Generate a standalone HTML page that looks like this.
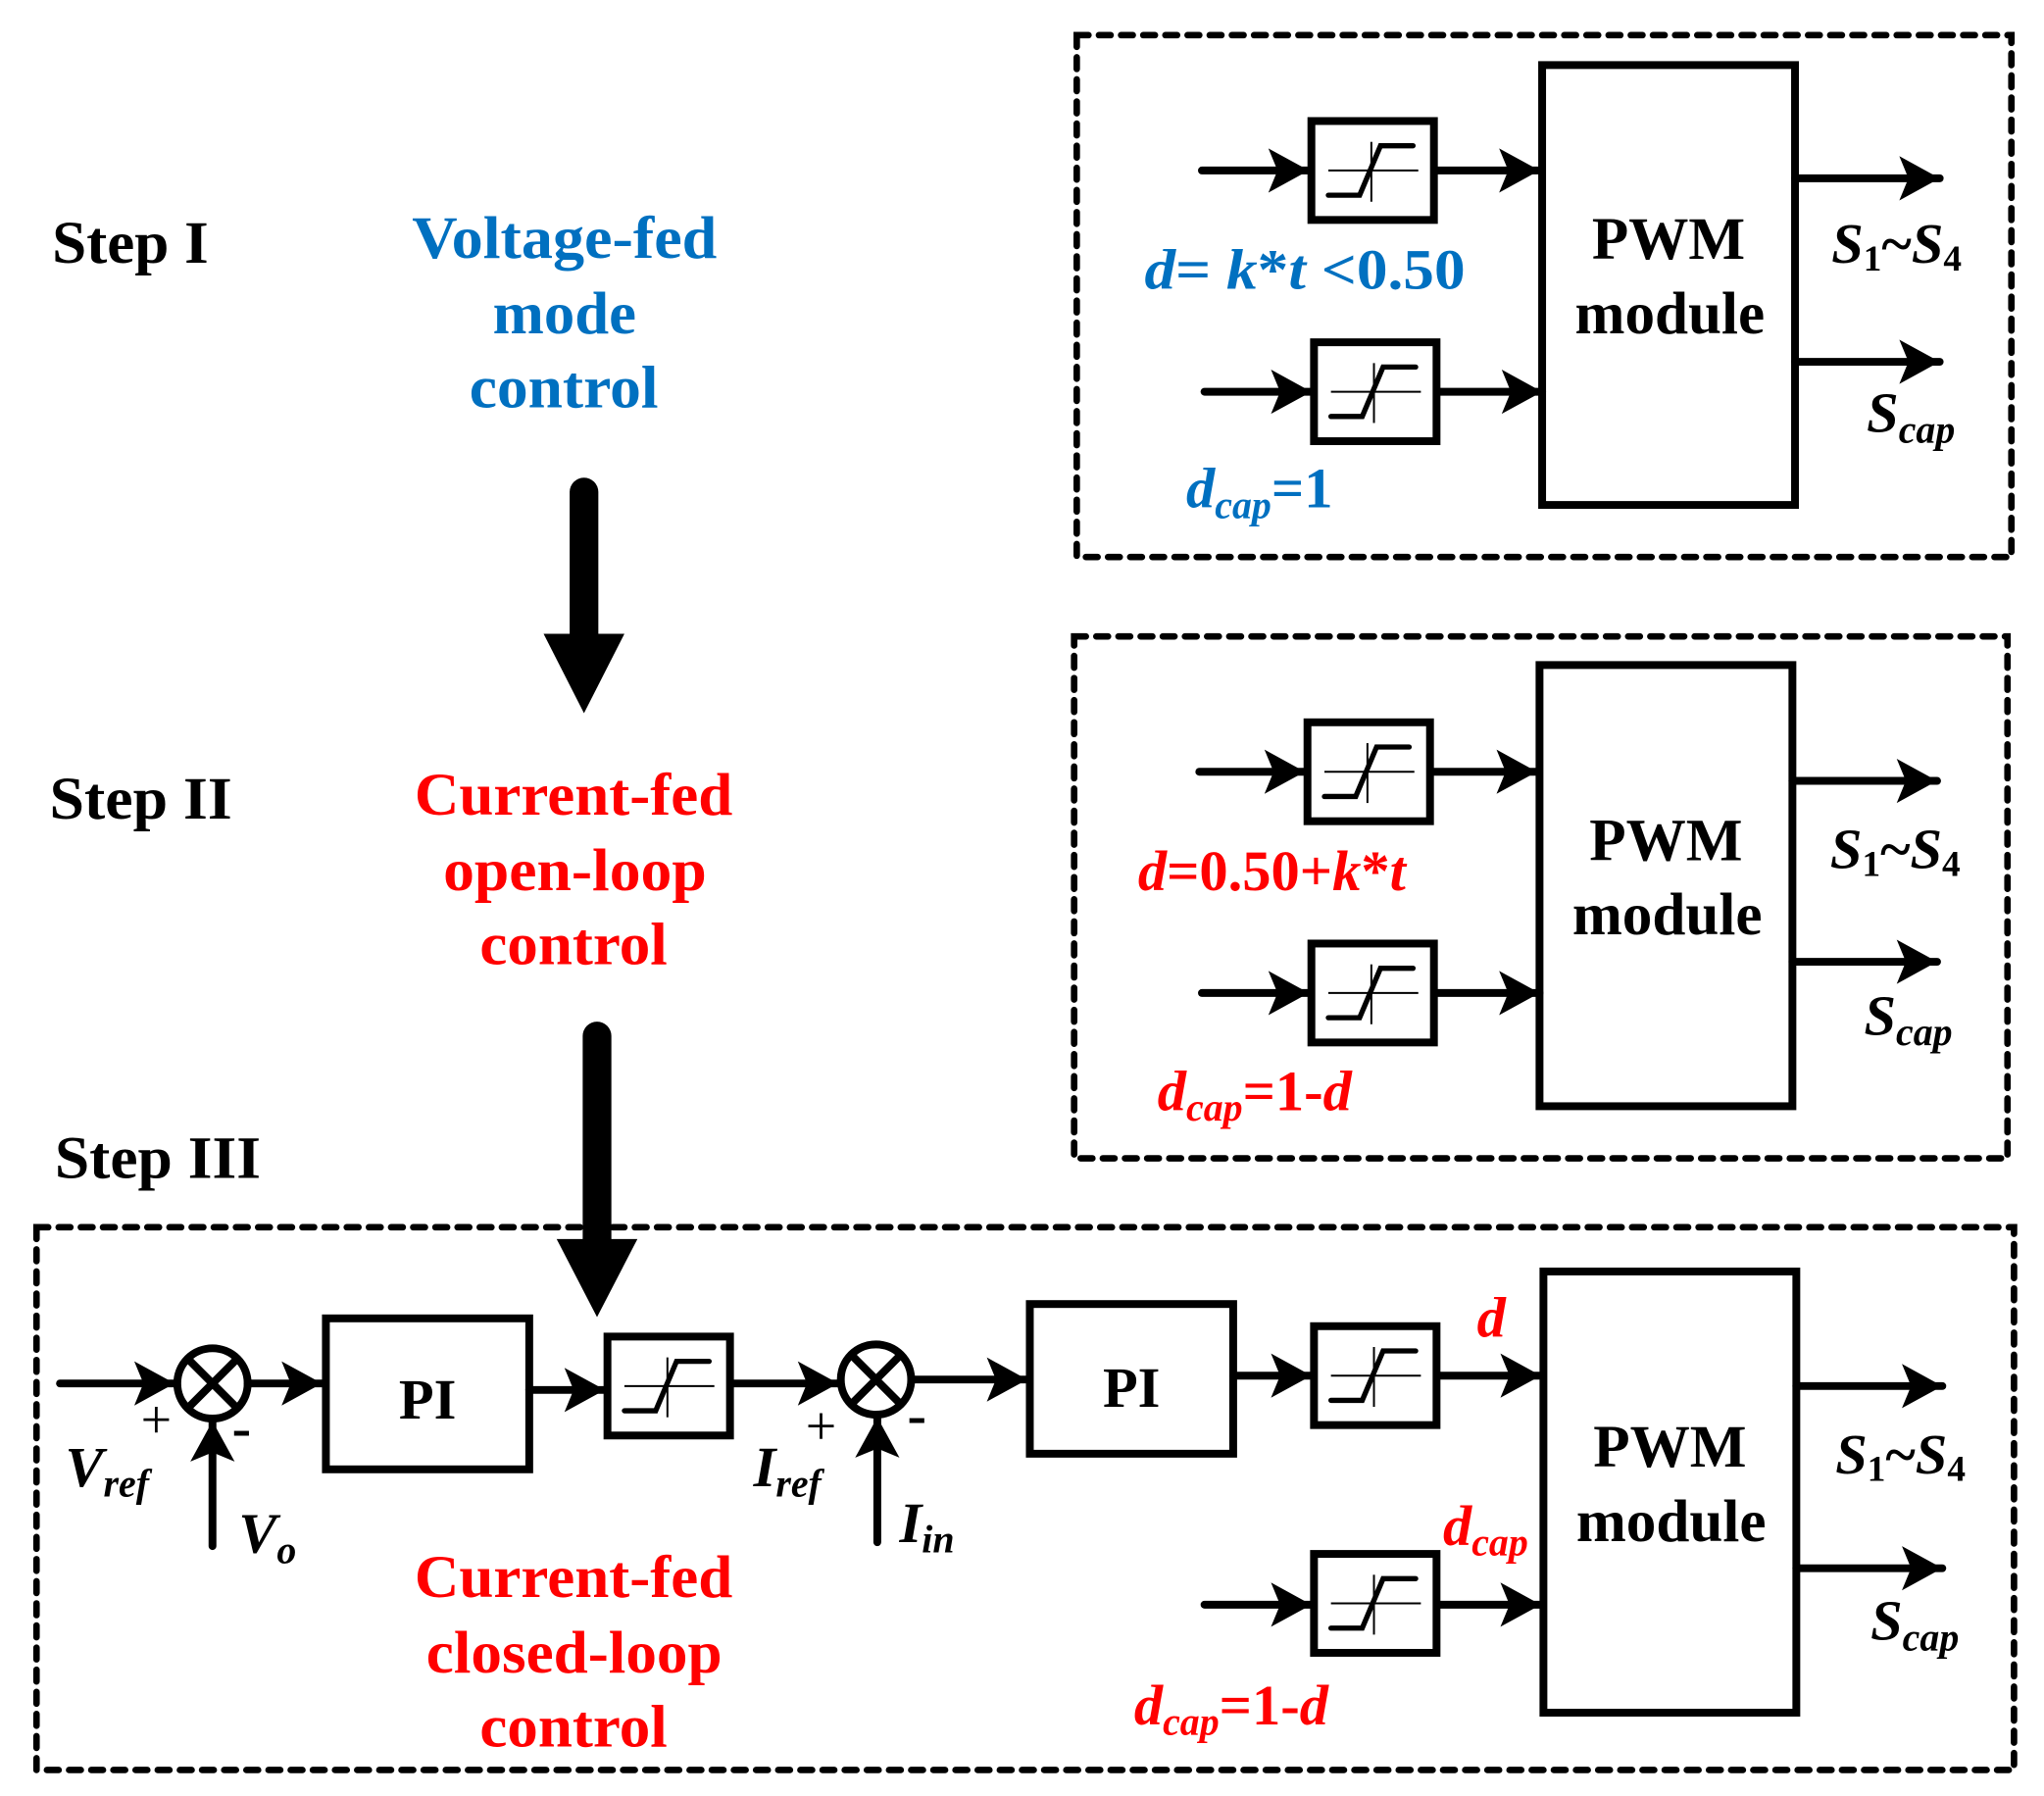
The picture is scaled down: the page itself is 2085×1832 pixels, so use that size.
<!DOCTYPE html>
<html><head><meta charset="utf-8"><style>
html,body{margin:0;padding:0;background:#fff}
svg{display:block}
text{font-family:"Liberation Serif",serif;font-weight:bold}
</style></head><body>
<svg width="2085" height="1832" viewBox="0 0 1568 1380" preserveAspectRatio="none" xmlns="http://www.w3.org/2000/svg">
<defs>
<marker id="a" markerWidth="10" markerHeight="10" refX="9" refY="5" orient="auto" markerUnits="userSpaceOnUse" viewBox="0 0 10 10" style="overflow:visible">
<path d="M-22,-12 L9,5 L-22,22 L-15,5 Z" fill="#000"/>
</marker>
<g id="sat">
<rect x="0" y="0" width="94" height="76" fill="#fff" stroke="#000" stroke-width="6"/>
<line x1="13" y1="38" x2="82" y2="38" stroke="#000" stroke-width="1.5"/>
<line x1="46" y1="16" x2="46" y2="62" stroke="#000" stroke-width="1.5"/>
<path d="M13,57 L37,57 L53,19 L78,19" fill="none" stroke="#000" stroke-width="4" stroke-linecap="round"/>
</g>
</defs>
<g fill="none" stroke="#000" stroke-width="5" stroke-dasharray="9 8" stroke-linecap="round">
<rect x="826" y="27" width="717" height="401"/>
<rect x="824" y="489" width="716" height="401"/>
<rect x="28" y="943" width="1517" height="417"/>
</g>
<g stroke="#000" stroke-width="6" fill="none" stroke-linecap="round">
<line x1="922" y1="131" x2="1004" y2="131" marker-end="url(#a)"/>
<line x1="1100" y1="131" x2="1181" y2="131" marker-end="url(#a)"/>
<line x1="924" y1="301" x2="1006" y2="301" marker-end="url(#a)"/>
<line x1="1103" y1="301" x2="1183" y2="301" marker-end="url(#a)"/>
<rect x="1183" y="50" width="194" height="338"/>
<line x1="1377" y1="137" x2="1488" y2="137" marker-end="url(#a)"/>
<line x1="1377" y1="278" x2="1488" y2="278" marker-end="url(#a)"/>
<line x1="920" y1="593" x2="1001" y2="593" marker-end="url(#a)"/>
<line x1="1098" y1="593" x2="1179" y2="593" marker-end="url(#a)"/>
<line x1="922" y1="763" x2="1004" y2="763" marker-end="url(#a)"/>
<line x1="1101" y1="763" x2="1181" y2="763" marker-end="url(#a)"/>
<rect x="1181" y="511" width="194" height="339"/>
<line x1="1375" y1="600" x2="1486" y2="600" marker-end="url(#a)"/>
<line x1="1375" y1="739" x2="1486" y2="739" marker-end="url(#a)"/>
<line x1="46" y1="1063" x2="134" y2="1063" marker-end="url(#a)"/>
<circle cx="163" cy="1063" r="27"/>
<line x1="144" y1="1044" x2="182" y2="1082"/><line x1="182" y1="1044" x2="144" y2="1082"/>
<line x1="190" y1="1063" x2="247" y2="1063" marker-end="url(#a)"/>
<line x1="163" y1="1188" x2="163" y2="1092" marker-end="url(#a)"/>
<rect x="250" y="1013" width="156" height="116"/>
<line x1="406" y1="1068" x2="464" y2="1068" marker-end="url(#a)"/>
<line x1="560" y1="1063" x2="643" y2="1063" marker-end="url(#a)"/>
<circle cx="672" cy="1060" r="27"/>
<line x1="653" y1="1041" x2="691" y2="1079"/><line x1="691" y1="1041" x2="653" y2="1079"/>
<line x1="699" y1="1060" x2="788" y2="1060" marker-end="url(#a)"/>
<line x1="673" y1="1185" x2="673" y2="1089" marker-end="url(#a)"/>
<rect x="790" y="1002" width="156" height="115"/>
<line x1="946" y1="1057" x2="1006" y2="1057" marker-end="url(#a)"/>
<line x1="1102" y1="1057" x2="1182" y2="1057" marker-end="url(#a)"/>
<line x1="924" y1="1233" x2="1006" y2="1233" marker-end="url(#a)"/>
<line x1="1102" y1="1233" x2="1182" y2="1233" marker-end="url(#a)"/>
<rect x="1184" y="977" width="194" height="339"/>
<line x1="1378" y1="1065" x2="1490" y2="1065" marker-end="url(#a)"/>
<line x1="1378" y1="1205" x2="1490" y2="1205" marker-end="url(#a)"/>
</g>
<use href="#sat" x="1006" y="93"/>
<use href="#sat" x="1008" y="263"/>
<use href="#sat" x="1003" y="555"/>
<use href="#sat" x="1006" y="725"/>
<use href="#sat" x="466" y="1027"/>
<use href="#sat" x="1008" y="1019"/>
<use href="#sat" x="1008" y="1194"/>
<line x1="448" y1="378" x2="448" y2="492" stroke="#000" stroke-width="22" stroke-linecap="round"/>
<path d="M417,487 L479,487 L448,548 Z" fill="#000"/>
<line x1="458" y1="796" x2="458" y2="956" stroke="#000" stroke-width="22" stroke-linecap="round"/>
<path d="M427,952 L489,952 L458,1012 Z" fill="#000"/>
<g font-size="46" fill="#000">
<text x="40" y="202" textLength="120" lengthAdjust="spacingAndGlyphs">Step I</text>
<text x="38" y="629" textLength="140" lengthAdjust="spacingAndGlyphs">Step II</text>
<text x="42" y="905" textLength="158" lengthAdjust="spacingAndGlyphs">Step III</text>
</g>
<g font-size="46" fill="#0070C0">
<text x="316" y="198" textLength="234" lengthAdjust="spacingAndGlyphs">Voltage-fed</text>
<text x="378" y="256" textLength="110" lengthAdjust="spacingAndGlyphs">mode</text>
<text x="360" y="313" textLength="145" lengthAdjust="spacingAndGlyphs">control</text>
</g>
<g font-size="46" fill="#FF0000">
<text x="318" y="626" textLength="244" lengthAdjust="spacingAndGlyphs">Current-fed</text>
<text x="340" y="684" textLength="202" lengthAdjust="spacingAndGlyphs">open-loop</text>
<text x="368" y="741" textLength="144" lengthAdjust="spacingAndGlyphs">control</text>
<text x="318" y="1227" textLength="244" lengthAdjust="spacingAndGlyphs">Current-fed</text>
<text x="327" y="1285" textLength="227" lengthAdjust="spacingAndGlyphs">closed-loop</text>
<text x="368" y="1342" textLength="144" lengthAdjust="spacingAndGlyphs">control</text>
</g>
<g font-size="46" fill="#000" text-anchor="middle">
<text x="1280" y="199">PWM</text><text x="1281" y="256">module</text>
<text x="1278" y="661">PWM</text><text x="1279" y="718">module</text>
<text x="1281" y="1127">PWM</text><text x="1282" y="1184">module</text>
<text x="328" y="1090" font-size="44">PI</text>
<text x="868" y="1081" font-size="44">PI</text>
</g>
<g font-size="44" fill="#000" font-style="italic">
<text x="1405" y="202">S<tspan font-size="28" font-style="normal" dy="6">1</tspan><tspan dy="-6" font-style="normal">~</tspan>S<tspan font-size="28" font-style="normal" dy="6">4</tspan></text>
<text x="1432" y="332">S<tspan font-size="30" dy="8">cap</tspan></text>
<text x="1404" y="667">S<tspan font-size="28" font-style="normal" dy="6">1</tspan><tspan dy="-6" font-style="normal">~</tspan>S<tspan font-size="28" font-style="normal" dy="6">4</tspan></text>
<text x="1430" y="795">S<tspan font-size="30" dy="8">cap</tspan></text>
<text x="1408" y="1132">S<tspan font-size="28" font-style="normal" dy="6">1</tspan><tspan dy="-6" font-style="normal">~</tspan>S<tspan font-size="28" font-style="normal" dy="6">4</tspan></text>
<text x="1435" y="1260">S<tspan font-size="30" dy="8">cap</tspan></text>
<text x="50" y="1142">V<tspan font-size="30" dy="8">ref</tspan></text>
<text x="183" y="1193">V<tspan font-size="30" dy="8">o</tspan></text>
<text x="578" y="1142">I<tspan font-size="30" dy="8">ref</tspan></text>
<text x="690" y="1185">I<tspan font-size="30" dy="8">in</tspan></text>
</g>
<g fill="#000">
<text x="108" y="1105" font-size="42" style="font-weight:normal">+</text>
<text x="178" y="1112" font-size="44">-</text>
<text x="618" y="1110" font-size="42" style="font-weight:normal">+</text>
<text x="696" y="1102" font-size="44">-</text>
</g>
<g font-size="44" fill="#0070C0">
<text x="878" y="222" textLength="246" lengthAdjust="spacingAndGlyphs"><tspan font-style="italic">d</tspan>= <tspan font-style="italic">k</tspan>*<tspan font-style="italic">t</tspan> &lt;0.50</text>
<text x="910" y="390"><tspan font-style="italic">d<tspan font-size="30" dy="8">cap</tspan></tspan><tspan dy="-8">=1</tspan></text>
</g>
<g font-size="44" fill="#FF0000">
<text x="873" y="684"><tspan font-style="italic">d</tspan>=0.50+<tspan font-style="italic">k</tspan>*<tspan font-style="italic">t</tspan></text>
<text x="888" y="853"><tspan font-style="italic">d<tspan font-size="30" dy="8">cap</tspan></tspan><tspan dy="-8">=1-</tspan><tspan font-style="italic">d</tspan></text>
<text x="1133" y="1027" font-style="italic">d</text>
<text x="1107" y="1187" font-style="italic">d<tspan font-size="30" dy="8">cap</tspan></text>
<text x="870" y="1325"><tspan font-style="italic">d<tspan font-size="30" dy="8">cap</tspan></tspan><tspan dy="-8">=1-</tspan><tspan font-style="italic">d</tspan></text>
</g>
</svg>
</body></html>
